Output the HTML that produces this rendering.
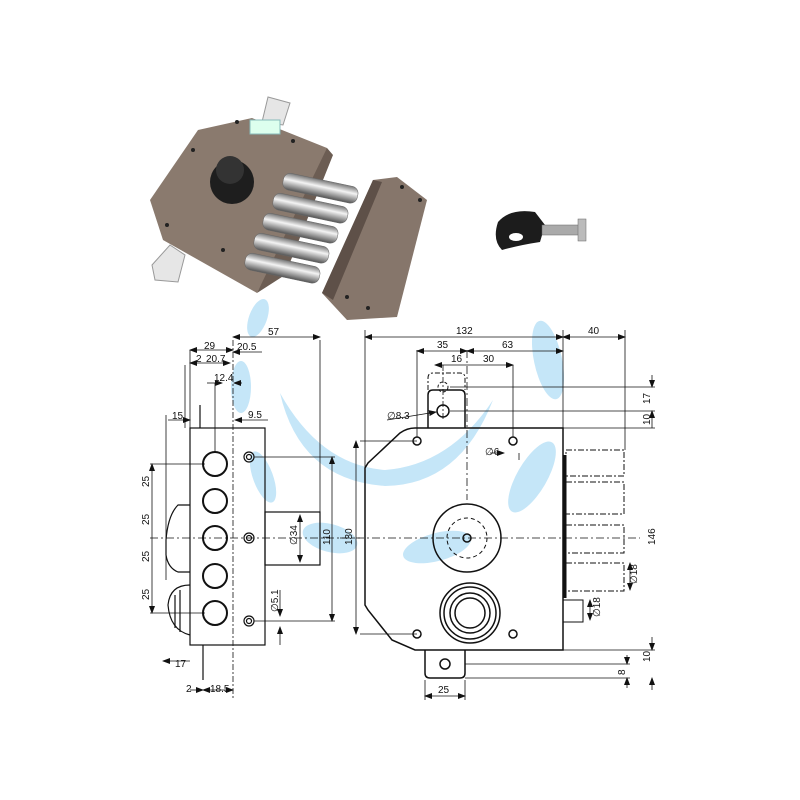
<!DOCTYPE html>
<html><head><meta charset="utf-8"><style>
html,body{margin:0;padding:0;background:#fff;}
svg{display:block;}
text{font-family:"Liberation Sans",Arial,sans-serif;font-size:10px;fill:#111;}
</style></head><body>
<svg width="800" height="800" viewBox="0 0 800 800" xmlns="http://www.w3.org/2000/svg">
<defs>
<marker id="a" markerWidth="8" markerHeight="6" refX="7" refY="3" orient="auto-start-reverse" markerUnits="userSpaceOnUse"><path d="M0,0 L8,3 L0,6z" fill="#111"/></marker>
<linearGradient id="bolt" x1="0" y1="0" x2="0" y2="1"><stop offset="0" stop-color="#777"/><stop offset=".4" stop-color="#f4f4f4"/><stop offset="1" stop-color="#555"/></linearGradient>
</defs>

<!-- watermark -->
<g fill="#c5e6f8">
<ellipse cx="258" cy="318" rx="9" ry="20" transform="rotate(20 258 318)"/>
<ellipse cx="241" cy="387" rx="10" ry="26"/>
<ellipse cx="263" cy="477" rx="10" ry="27" transform="rotate(-20 263 477)"/>
<ellipse cx="330" cy="538" rx="28" ry="14" transform="rotate(15 330 538)"/>
<ellipse cx="437" cy="547" rx="35" ry="14" transform="rotate(-15 437 547)"/>
<ellipse cx="532" cy="477" rx="15" ry="40" transform="rotate(30 532 477)"/>
<ellipse cx="548" cy="360" rx="14" ry="40" transform="rotate(-12 548 360)"/>
<path d="M280,393 Q300,480 385,486 Q460,485 493,400 Q450,465 385,470 Q320,465 280,393z"/>
</g>

<!-- photo: lock -->
<polygon points="268,97 290,103 283,125 262,122" fill="#e6e6e6" stroke="#999"/>
<polygon points="152,265 170,245 185,255 178,282 155,280" fill="#e6e6e6" stroke="#999"/>
<polygon points="150,200 198,130 252,118 327,148 328,157 257,293 163,240" fill="#8a7a6e"/>
<polygon points="327,148 333,155 285,275 257,293" fill="#6c5d53"/>
<rect x="250" y="120" width="30" height="14" fill="#dfe" stroke="#8bb"/>
<circle cx="232" cy="182" r="22" fill="#1e1e1e"/>
<circle cx="230" cy="170" r="14" fill="#333"/>
<g fill="#222"><circle cx="237" cy="122" r="2"/><circle cx="293" cy="141" r="2"/><circle cx="167" cy="225" r="2"/><circle cx="223" cy="250" r="2"/><circle cx="193" cy="150" r="2"/></g>
<g fill="url(#bolt)" stroke="#666" stroke-width=".5">
<rect x="285" y="172" width="76" height="17" rx="7" transform="rotate(12 285 172)"/>
<rect x="275" y="192" width="76" height="17" rx="7" transform="rotate(12 275 192)"/>
<rect x="265" y="212" width="76" height="17" rx="7" transform="rotate(12 265 212)"/>
<rect x="256" y="232" width="76" height="17" rx="7" transform="rotate(12 256 232)"/>
<rect x="247" y="252" width="76" height="17" rx="7" transform="rotate(12 247 252)"/>
</g>
<!-- strike plate -->
<polygon points="322,293 373,180 397,177 427,200 397,317 347,320" fill="#86766b"/>
<polygon points="322,293 373,180 382,182 333,300" fill="#5e5048"/>
<g fill="#222"><circle cx="402" cy="187" r="2"/><circle cx="420" cy="200" r="2"/><circle cx="347" cy="297" r="2"/><circle cx="368" cy="308" r="2"/></g>
<!-- key -->
<path d="M498,222 Q510,208 535,212 L545,225 L540,242 Q520,245 502,250 Q492,240 498,222z" fill="#1c1c1c"/>
<ellipse cx="516" cy="237" rx="7" ry="4" fill="#fff"/>
<rect x="542" y="225" width="40" height="10" fill="#aaa" stroke="#666" stroke-width=".5"/>
<rect x="578" y="219" width="8" height="22" fill="#bbb" stroke="#666" stroke-width=".5"/>

<!-- LEFT DRAWING -->
<g fill="none" stroke="#111" stroke-width="1.2">
<rect x="190" y="428" width="75" height="217"/>
<rect x="265" y="512" width="55" height="53"/>
<path d="M190,505 L178,505 Q168,515 166,540 L166,555 Q168,568 178,572 L190,572"/>
<path d="M190,585 Q170,585 168,605 Q170,630 190,635" />
<path d="M180,590 L180,632 M175,595 L175,628"/>
<line x1="200" y1="405" x2="200" y2="428"/>
<line x1="203" y1="645" x2="203" y2="680"/>
</g>
<g fill="none" stroke="#111" stroke-width="2">
<circle cx="215" cy="464" r="12"/><circle cx="215" cy="501" r="12"/><circle cx="215" cy="538" r="12"/><circle cx="215" cy="576" r="12"/><circle cx="215" cy="613" r="12"/>
</g>
<g fill="none" stroke="#111" stroke-width="1.2">
<circle cx="249" cy="457" r="5"/><circle cx="249" cy="457" r="2.5"/>
<circle cx="249" cy="538" r="5"/><circle cx="249" cy="538" r="2.5"/>
<circle cx="249" cy="621" r="5"/><circle cx="249" cy="621" r="2.5"/>
</g>
<g stroke="#111" stroke-width=".8" fill="none">
<line x1="233" y1="340" x2="233" y2="700" stroke-dasharray="6,2,2,2"/>
<line x1="150" y1="538" x2="360" y2="538" stroke-dasharray="8,3,2,3"/>
<line x1="190" y1="350" x2="190" y2="428"/><line x1="185" y1="365" x2="185" y2="428"/>
<line x1="320" y1="340" x2="320" y2="512"/>
<line x1="190" y1="350" x2="233" y2="350" marker-start="url(#a)" marker-end="url(#a)"/>
<line x1="233" y1="337" x2="320" y2="337" marker-start="url(#a)" marker-end="url(#a)"/>
<line x1="233" y1="352" x2="262" y2="352" marker-start="url(#a)"/>
<line x1="190" y1="363" x2="230" y2="363" marker-start="url(#a)" marker-end="url(#a)"/>
<line x1="207" y1="383" x2="222" y2="383" marker-end="url(#a)"/><line x1="242" y1="383" x2="234" y2="383" marker-end="url(#a)"/>
<line x1="215" y1="383" x2="215" y2="452"/>
<line x1="168" y1="420" x2="190" y2="420" marker-end="url(#a)"/><line x1="166" y1="415" x2="166" y2="580"/>
<line x1="235" y1="420" x2="268" y2="420" marker-start="url(#a)"/>
<line x1="150" y1="464" x2="205" y2="464"/><line x1="150" y1="613" x2="205" y2="613"/>
<line x1="152" y1="464" x2="152" y2="613" marker-start="url(#a)" marker-end="url(#a)"/>
<line x1="254" y1="457" x2="335" y2="457"/><line x1="254" y1="621" x2="335" y2="621"/>
<line x1="332" y1="457" x2="332" y2="621" marker-start="url(#a)" marker-end="url(#a)"/>
<line x1="300" y1="515" x2="300" y2="562" marker-start="url(#a)" marker-end="url(#a)"/>
<line x1="280" y1="590" x2="280" y2="616" marker-end="url(#a)"/><line x1="280" y1="645" x2="280" y2="627" marker-end="url(#a)"/>
<line x1="163" y1="661" x2="190" y2="661" marker-start="url(#a)"/>
<line x1="190" y1="690" x2="203" y2="690" marker-end="url(#a)"/><line x1="203" y1="690" x2="233" y2="690" marker-start="url(#a)" marker-end="url(#a)"/>
</g>
<text x="204" y="349">29</text><text x="268" y="335">57</text><text x="237" y="350">20.5</text>
<text x="196" y="362">2</text><text x="206" y="362">20.7</text><text x="214" y="381">12.4</text>
<text x="172" y="419">15</text><text x="248" y="418">9.5</text>
<text x="175" y="667">17</text><text x="186" y="692">2</text><text x="210" y="692">18.5</text>
<g font-size="10">
<text transform="translate(149,487) rotate(-90)">25</text><text transform="translate(149,525) rotate(-90)">25</text>
<text transform="translate(149,562) rotate(-90)">25</text><text transform="translate(149,600) rotate(-90)">25</text>
<text transform="translate(297,545) rotate(-90)">∅34</text><text transform="translate(330,545) rotate(-90)">110</text>
<text transform="translate(352,545) rotate(-90)">130</text><text transform="translate(278,612) rotate(-90)">∅5.1</text>
</g>

<!-- RIGHT DRAWING -->
<g fill="none" stroke="#111" stroke-width="1.5">
<path d="M415,428 L563,428 L563,650 L415,650 L392,640 L368,610 L365,605 L365,468 L368,463 L400,433 Q407,428 415,428z"/>
<path d="M428,428 L428,395 Q428,390 433,390 L460,390 Q465,390 465,395 L465,428"/>
<path d="M428,390 L428,378 Q428,373 433,373 L460,373 Q465,373 465,378 L465,390" stroke-dasharray="5,2,2,2" stroke-width="1"/>
<circle cx="443" cy="411" r="6"/><circle cx="443" cy="387" r="5" stroke-dasharray="3,2" stroke-width="1"/>
<circle cx="417" cy="441" r="4"/><circle cx="513" cy="441" r="4"/>
<circle cx="417" cy="634" r="4"/><circle cx="513" cy="634" r="4"/>
<circle cx="467" cy="538" r="34"/><circle cx="467" cy="538" r="20" stroke-dasharray="4,3" stroke-width="1"/>
<circle cx="467" cy="538" r="4"/>
<circle cx="470" cy="613" r="30"/><circle cx="470" cy="613" r="26"/><circle cx="470" cy="613" r="20"/><circle cx="470" cy="613" r="15"/>
<path d="M425,650 L425,673 Q425,678 430,678 L460,678 Q465,678 465,673 L465,650"/>
<circle cx="445" cy="664" r="5"/>
<rect x="563" y="600" width="20" height="22" stroke-width="1"/>
</g>
<line x1="565" y1="455" x2="565" y2="598" stroke="#111" stroke-width="3"/>
<g fill="none" stroke="#111" stroke-width="1" stroke-dasharray="6,2,2,2">
<rect x="566" y="450" width="58" height="26"/><rect x="566" y="482" width="58" height="32"/>
<rect x="566" y="525" width="58" height="28"/><rect x="566" y="563" width="58" height="28"/>
</g>
<g stroke="#111" stroke-width=".8" fill="none">
<line x1="340" y1="538" x2="640" y2="538" stroke-dasharray="8,3,2,3"/>
<line x1="467" y1="350" x2="467" y2="500" stroke-dasharray="8,3,2,3"/>
<line x1="443" y1="365" x2="443" y2="420" stroke-dasharray="6,2,2,2"/>
<line x1="365" y1="330" x2="365" y2="468"/><line x1="563" y1="330" x2="563" y2="428"/><line x1="625" y1="330" x2="625" y2="450"/>
<line x1="365" y1="337" x2="563" y2="337" marker-start="url(#a)" marker-end="url(#a)"/>
<line x1="563" y1="337" x2="625" y2="337" marker-start="url(#a)" marker-end="url(#a)"/>
<line x1="417" y1="350" x2="417" y2="437"/><line x1="417" y1="351" x2="467" y2="351" marker-start="url(#a)" marker-end="url(#a)"/>
<line x1="467" y1="351" x2="563" y2="351" marker-start="url(#a)" marker-end="url(#a)"/>
<line x1="435" y1="365" x2="467" y2="365" marker-start="url(#a)"/>
<line x1="467" y1="365" x2="513" y2="365" marker-end="url(#a)"/><line x1="513" y1="365" x2="513" y2="437"/>
<line x1="450" y1="387" x2="655" y2="387"/><line x1="450" y1="411" x2="655" y2="411"/><line x1="563" y1="428" x2="655" y2="428"/>
<line x1="652" y1="375" x2="652" y2="387" marker-end="url(#a)"/><line x1="652" y1="411" x2="652" y2="428" marker-start="url(#a)"/>
<line x1="387" y1="420" x2="436" y2="412" marker-end="url(#a)"/>
<line x1="490" y1="453" x2="504" y2="453" marker-end="url(#a)"/><line x1="519" y1="453" x2="519" y2="460"/>
<line x1="360" y1="441" x2="417" y2="441"/><line x1="360" y1="634" x2="417" y2="634"/>
<line x1="356" y1="441" x2="356" y2="634" marker-start="url(#a)" marker-end="url(#a)"/>
<line x1="630" y1="563" x2="630" y2="590" marker-start="url(#a)" marker-end="url(#a)"/>
<line x1="590" y1="600" x2="590" y2="620" marker-start="url(#a)" marker-end="url(#a)"/>
<line x1="563" y1="650" x2="655" y2="650"/><line x1="465" y1="664" x2="630" y2="664"/><line x1="465" y1="678" x2="630" y2="678"/>
<line x1="652" y1="637" x2="652" y2="650" marker-end="url(#a)"/><line x1="652" y1="678" x2="652" y2="690" marker-start="url(#a)"/>
<line x1="627" y1="655" x2="627" y2="664" marker-end="url(#a)"/><line x1="627" y1="678" x2="627" y2="688" marker-start="url(#a)"/>
<line x1="425" y1="680" x2="425" y2="700"/><line x1="465" y1="680" x2="465" y2="700"/>
<line x1="425" y1="696" x2="465" y2="696" marker-start="url(#a)" marker-end="url(#a)"/>
</g>
<text x="456" y="334">132</text><text x="588" y="334">40</text>
<text x="437" y="348">35</text><text x="502" y="348">63</text>
<text x="451" y="362">16</text><text x="483" y="362">30</text>
<text x="387" y="419">∅8.3</text><text x="485" y="455">∅6</text>
<text x="438" y="693">25</text>
<g>
<text transform="translate(650,404) rotate(-90)">17</text><text transform="translate(650,425) rotate(-90)">10</text>
<text transform="translate(655,545) rotate(-90)">146</text><text transform="translate(637,584) rotate(-90)">∅18</text>
<text transform="translate(600,617) rotate(-90)">∅18</text>
<text transform="translate(650,662) rotate(-90)">10</text><text transform="translate(625,675) rotate(-90)">8</text>
</g>
</svg>
</body></html>
